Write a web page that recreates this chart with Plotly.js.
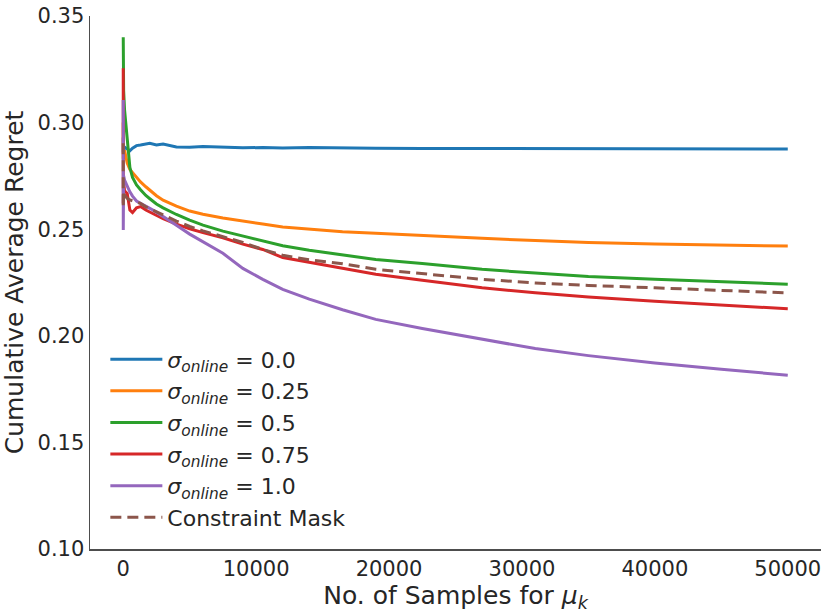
<!DOCTYPE html>
<html>
<head>
<meta charset="utf-8">
<script src="https://cdn.plot.ly/plotly-3.0.1.min.js"></script>
<style>
  body { margin: 0; background: #fff; }
  #chart { width: 830px; height: 613px; }
</style>
</head>
<body>
<div id="chart"></div>
<script>
// Sample counts (x) shared by every curve
var samples = [1, 3, 10, 30, 100, 300, 500, 700, 1000, 1300, 1700, 2000, 2500, 3000, 4000, 5000, 6000,
    7500, 9000, 10500, 12000, 14000, 16500, 19000, 22500, 27000, 31000, 35000, 40000, 45000, 50000];

// Cumulative average regret
var sigma00 = [0.293, 0.286, 0.291, 0.287, 0.2885, 0.2875, 0.2868, 0.2880, 0.2892, 0.2895, 0.2900, 0.2903, 0.2895,
    0.2900, 0.2886, 0.2884, 0.2888, 0.2884, 0.2882, 0.2883, 0.2881, 0.2883, 0.2883, 0.2880, 0.2879, 0.2878,
    0.2877, 0.2878, 0.2877, 0.2877, 0.2876];
var sigma025 = [0.300, 0.283, 0.292, 0.285, 0.287, 0.281, 0.2780, 0.2765, 0.2742, 0.2722, 0.2699, 0.2683, 0.2657,
    0.2636, 0.2608, 0.2585, 0.2570, 0.2553, 0.2537, 0.2524, 0.2510, 0.2499, 0.2488, 0.2481, 0.2470, 0.2457,
    0.2447, 0.2438, 0.2431, 0.2426, 0.2421];
var sigma05 = [0.340, 0.330, 0.322, 0.315, 0.306, 0.292, 0.2790, 0.2743, 0.2708, 0.2685, 0.2658, 0.2643, 0.2618,
    0.2600, 0.2569, 0.2543, 0.2519, 0.2491, 0.2468, 0.2442, 0.2422, 0.2401, 0.2378, 0.2358, 0.2339, 0.2312,
    0.2294, 0.2278, 0.2265, 0.2253, 0.2242];
var sigma075 = [0.3255, 0.262, 0.300, 0.272, 0.268, 0.2668, 0.2590, 0.2578, 0.2600, 0.2606, 0.2590, 0.2580, 0.2565,
    0.2549, 0.2524, 0.2502, 0.2484, 0.2460, 0.2430, 0.2405, 0.2367, 0.2345, 0.2316, 0.2289, 0.2261, 0.2225,
    0.2202, 0.2182, 0.2162, 0.2144, 0.2127];
var sigma10 = [0.3106, 0.2496, 0.290, 0.275, 0.273, 0.270, 0.2675, 0.2655, 0.2632, 0.2621, 0.2609, 0.2598, 0.2580,
    0.2558, 0.2518, 0.2477, 0.2441, 0.2387, 0.2316, 0.2265, 0.2218, 0.2172, 0.2122, 0.2077, 0.2034, 0.1984,
    0.1940, 0.1907, 0.1872, 0.1843, 0.1815];
var constraintMask = [0.2903, 0.260, 0.285, 0.268, 0.266, 0.2645, 0.2637, 0.2633, 0.2628, 0.2621, 0.2605, 0.2596, 0.2580,
    0.2565, 0.2538, 0.2513, 0.2492, 0.2465, 0.2438, 0.2405, 0.2378, 0.2356, 0.2338, 0.2312, 0.2292, 0.2265,
    0.2248, 0.2236, 0.2225, 0.2213, 0.2201];

var seriesNames = [
    '<i>σ</i><sub><i>online</i></sub> = 0.0',
    '<i>σ</i><sub><i>online</i></sub> = 0.25',
    '<i>σ</i><sub><i>online</i></sub> = 0.5',
    '<i>σ</i><sub><i>online</i></sub> = 0.75',
    '<i>σ</i><sub><i>online</i></sub> = 1.0',
    'Constraint Mask'
];
var seriesValues = [sigma00, sigma025, sigma05, sigma075, sigma10, constraintMask];
var colors = ['#1f77b4', '#ff7f0e', '#2ca02c', '#d62728', '#9467bd', '#8c564b'];

var xTicks = [0, 10000, 20000, 30000, 40000, 50000];
var yTicks = [0.10, 0.15, 0.20, 0.25, 0.30, 0.35];

var traces = seriesValues.map(function(vals, i) {
    return {
        x: samples,
        y: vals,
        name: seriesNames[i],
        type: 'scatter',
        mode: 'lines',
        line: {
            color: colors[i],
            width: 3,
            dash: i === 5 ? '11px,6px' : 'solid'
        }
    };
});

var font = { family: 'DejaVu Sans, sans-serif', color: '#262626' };

var layout = {
    width: 830,
    height: 613,
    margin: { l: 90, r: 9, t: 16, b: 64 },
    paper_bgcolor: '#fff',
    plot_bgcolor: '#fff',
    font: font,
    showlegend: true,
    legend: {
        x: 0.021,
        y: 0.395,
        xanchor: 'left',
        yanchor: 'top',
        itemwidth: 52,
        bgcolor: 'rgba(255,255,255,0)',
        borderwidth: 0,
        font: { family: font.family, size: 22, color: '#262626' }
    },
    xaxis: {
        range: [-2500, 52500],
        tickvals: xTicks,
        ticktext: xTicks.map(String),
        showgrid: false,
        zeroline: false,
        showline: true,
        linecolor: '#4d4d4d',
        linewidth: 1.5,
        ticks: '',
        tickfont: { size: 21 },
        title: { text: 'No. of Samples for <i>μ</i><sub><i>k</i></sub>', font: { size: 25 }, standoff: 6 }
    },
    yaxis: {
        range: [0.10, 0.35],
        tickvals: yTicks,
        ticktext: yTicks.map(function(v) { return v.toFixed(2); }),
        showgrid: false,
        zeroline: false,
        showline: true,
        linecolor: '#4d4d4d',
        linewidth: 1.5,
        ticks: '',
        tickfont: { size: 21 },
        title: { text: 'Cumulative Average Regret', font: { size: 25 }, standoff: 8 }
    }
};

Plotly.newPlot('chart', traces, layout, { displayModeBar: false, staticPlot: true });
</script>
</body>
</html>
